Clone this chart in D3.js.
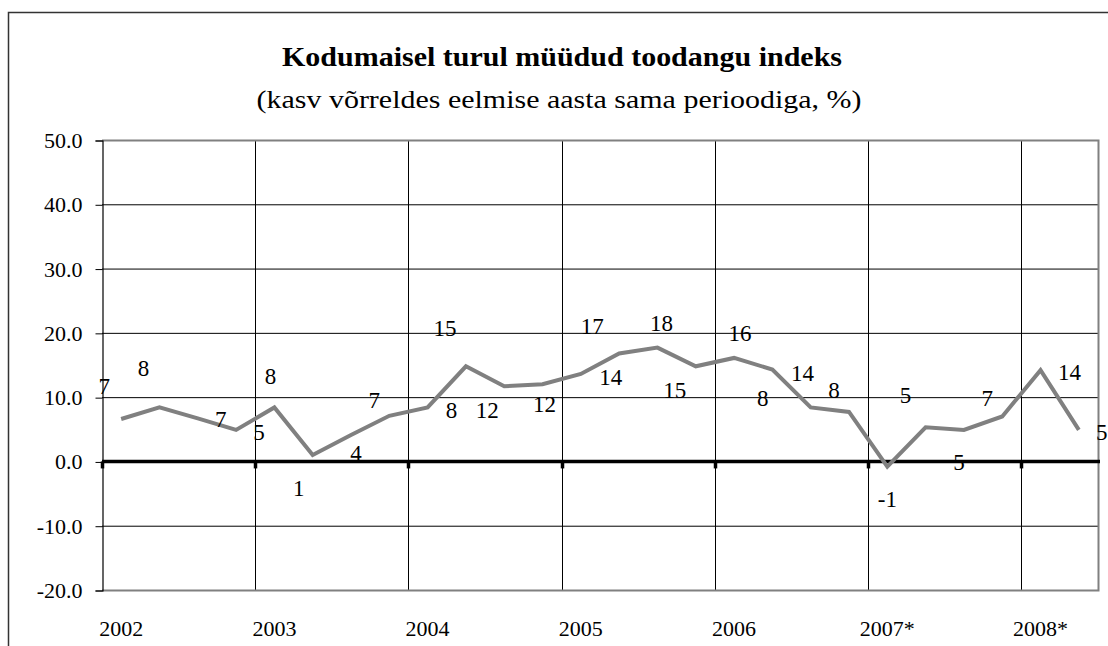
<!DOCTYPE html>
<html>
<head>
<meta charset="utf-8">
<script src="https://cdn.jsdelivr.net/npm/d3@7"></script>
<style>
  body { margin: 0; background: #fff; }
  text { font-family: "Liberation Serif", "Times New Roman", serif; fill: #000; }
</style>
</head>
<body>
<div id="chart"></div>
<script>
// Data: quarterly growth vs same period of previous year, %
var years = ["2002", "2003", "2004", "2005", "2006", "2007*", "2008*"];
var quarters = ["I", "II", "III", "IV"];
var values = [6.6, 8.4, 6.7, 4.9,
              8.4, 1.0, 4.1, 7.1,
              8.4, 14.8, 11.7, 12.0,
              13.6, 16.8, 17.7, 14.8,
              16.1, 14.3, 8.4, 7.7,
              -0.8, 5.3, 4.9, 7.0,
              14.2, 4.9];
var yTicks = [-20, -10, 0, 10, 20, 30, 40, 50];

// categories, one per quarter (2008 only has two)
var categories = [];
years.forEach(function (yr) {
    quarters.forEach(function (q) {
        if (categories.length < values.length) categories.push(yr + " " + q);
    });
});
var firstQuarters = categories.filter(function (c, i) { return i % 4 == 0; });

// label nudges (px) - the labels were dragged by hand in the original
var labelShift = [[-17, -33], [-16, -39], [23, 1], [23, 2],
                  [-4, -31], [-14, 33], [5, 18], [-15, -16],
                  [24, 3], [-21, -38], [-17, 24], [2, 20],
                  [30, 3], [-27, -27], [4, -25], [-21, 24],
                  [6, -25], [30, 3], [-48, -9], [-15, -22],
                  [0, 32], [-20, -32], [-5, 32], [-15, -18],
                  [29, 2], [23, 2]];

var W = 1108, H = 646;
var plot = { left: 102, right: 1098, top: 140, bottom: 590 };

var svg = d3.select("#chart").append("svg")
    .attr("width", W)
    .attr("height", H);

// outer chart border (runs off the right/bottom of the picture)
svg.append("rect")
    .attr("x", 8.5).attr("y", 12.5)
    .attr("width", 1300).attr("height", 800)
    .attr("fill", "none")
    .attr("stroke", "#333")
    .attr("stroke-width", 1.5);

// titles
svg.append("text")
    .attr("x", 562).attr("y", 66)
    .attr("text-anchor", "middle")
    .attr("font-size", 28)
    .attr("font-weight", "bold")
    .attr("textLength", 560)
    .attr("lengthAdjust", "spacingAndGlyphs")
    .text("Kodumaisel turul müüdud toodangu indeks");

svg.append("text")
    .attr("x", 559).attr("y", 108)
    .attr("text-anchor", "middle")
    .attr("font-size", 26)
    .attr("textLength", 605)
    .attr("lengthAdjust", "spacingAndGlyphs")
    .text("(kasv võrreldes eelmise aasta sama perioodiga, %)");

// scales
var x = d3.scaleBand().domain(categories).range([plot.left, plot.right]);
var y = d3.scaleLinear().domain([-20, 50]).range([plot.bottom, plot.top]);

// horizontal gridlines
svg.selectAll(".hgrid")
    .data(yTicks.filter(function (d) { return d != 0 && d != 50 && d != -20; }))
    .enter().append("line")
    .attr("x1", plot.left).attr("x2", plot.right)
    .attr("y1", function (d) { return y(d) + 0.5; })
    .attr("y2", function (d) { return y(d) + 0.5; })
    .attr("stroke", "#000")
    .attr("stroke-width", 1);

// vertical gridlines at year boundaries
svg.selectAll(".vgrid")
    .data(firstQuarters.slice(1))
    .enter().append("line")
    .attr("x1", function (d) { return Math.round(x(d)) + 0.5; })
    .attr("x2", function (d) { return Math.round(x(d)) + 0.5; })
    .attr("y1", plot.top).attr("y2", plot.bottom)
    .attr("stroke", "#000")
    .attr("stroke-width", 1);

// plot area border (grey top/right/bottom)
svg.append("path")
    .attr("d", "M" + plot.left + "," + (plot.top + 0.5) +
               "H" + (plot.right + 0.5) +
               "V" + (plot.bottom + 0.5) +
               "H" + plot.left)
    .attr("fill", "none")
    .attr("stroke", "#808080")
    .attr("stroke-width", 2);

// y axis
var yAxis = svg.append("g")
    .attr("transform", "translate(" + (plot.left + 0.5) + ",0.5)")
    .call(d3.axisLeft(y)
        .tickValues(yTicks)
        .tickSize(7)
        .tickPadding(13)
        .tickFormat(function (d) { return d.toFixed(1); }));
yAxis.select(".domain").attr("stroke", "#000").attr("stroke-width", 1.2);
yAxis.selectAll(".tick line").attr("stroke", "#000");
yAxis.selectAll("text")
    .attr("font-family", "Liberation Serif")
    .attr("font-size", 22)
    .attr("fill", "#000");

// x labels under the plot
var xAxis = svg.append("g")
    .attr("transform", "translate(0," + plot.bottom + ")")
    .call(d3.axisBottom(x)
        .tickValues(firstQuarters)
        .tickSize(0)
        .tickPadding(30)
        .tickFormat(function (d) { return d.split(" ")[0]; }));
xAxis.select(".domain").remove();
xAxis.selectAll("text")
    .attr("font-family", "Liberation Serif")
    .attr("font-size", 22)
    .attr("fill", "#000");

// zero line with tick marks
svg.append("line")
    .attr("x1", plot.left).attr("x2", plot.right + 2)
    .attr("y1", y(0)).attr("y2", y(0))
    .attr("stroke", "#000")
    .attr("stroke-width", 3.5);

svg.selectAll(".zerotick")
    .data(firstQuarters)
    .enter().append("line")
    .attr("x1", function (d) { return Math.round(x(d)) + 0.5; })
    .attr("x2", function (d) { return Math.round(x(d)) + 0.5; })
    .attr("y1", y(0)).attr("y2", y(0) + 7)
    .attr("stroke", "#000")
    .attr("stroke-width", 3.5);

// series line
var line = d3.line()
    .x(function (d, i) { return x(categories[i]) + x.bandwidth() / 2; })
    .y(function (d) { return y(d); });

svg.append("path")
    .datum(values)
    .attr("d", line)
    .attr("fill", "none")
    .attr("stroke", "#808080")
    .attr("stroke-width", 4)
    .attr("stroke-linejoin", "miter");

// data labels
svg.selectAll(".lbl")
    .data(values)
    .enter().append("text")
    .attr("x", function (d, i) { return x(categories[i]) + x.bandwidth() / 2 + labelShift[i][0]; })
    .attr("y", function (d, i) { return y(d) + labelShift[i][1]; })
    .attr("dy", "0.35em")
    .attr("text-anchor", "middle")
    .attr("font-size", 23)
    .text(function (d) { return String(Math.round(d)); });
</script>
</body>
</html>
